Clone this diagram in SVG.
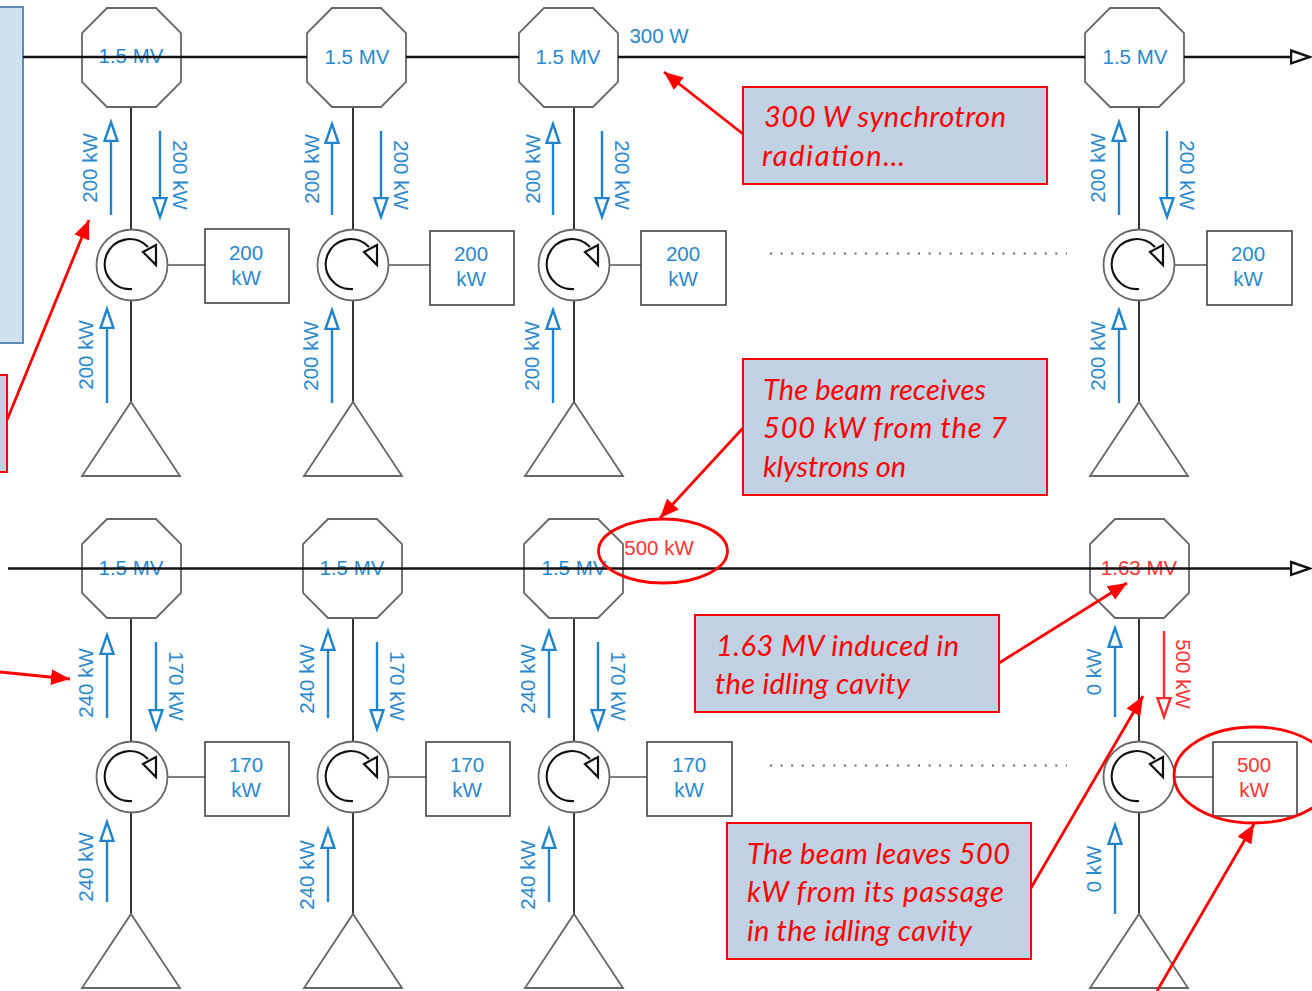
<svg xmlns="http://www.w3.org/2000/svg" width="1312" height="991" viewBox="0 0 1312 991">
<style>
.sh{fill:#fff;stroke:#666;stroke-width:1.8}
.bx{fill:#fff;stroke:#444;stroke-width:1.6}
.wire{stroke:#333;stroke-width:2;fill:none}
.thin{stroke:#555;stroke-width:1.6;fill:none}
.beam{stroke:#111;stroke-width:2.4;fill:none}
.b{fill:#2a88ce;font:20.5px "Liberation Sans",Arial,sans-serif;text-anchor:middle}
.r{fill:#ff3333;font:20.5px "Liberation Sans",Arial,sans-serif;text-anchor:middle}
.fb{stroke:#1f84cc;stroke-width:2.4;fill:none;marker-end:url(#hb)}
.fr{stroke:#ff2a2a;stroke-width:2.4;fill:none;marker-end:url(#hr)}
.call{fill:#bfd1e3;stroke:#f00;stroke-width:2}
.ct{fill:#f00;font:italic 29px Lato,"Liberation Sans",sans-serif}
.ra{stroke:#f00;stroke-width:2.8;fill:none;marker-end:url(#ra)}
.el{fill:none;stroke:#f00;stroke-width:2.8}
.dots{stroke:#666;stroke-width:2;stroke-dasharray:2 8.57;fill:none}
</style>
<defs>
<marker id="hb" markerUnits="userSpaceOnUse" orient="auto" markerWidth="24" markerHeight="18" viewBox="-1 -8 24 16" refX="0" refY="0"><path d="M0 -6.500L19 0L0 6.500Z" fill="#fff" stroke="#1f84cc" stroke-width="2.400"/></marker>
<marker id="hr" markerUnits="userSpaceOnUse" orient="auto" markerWidth="24" markerHeight="18" viewBox="-1 -8 24 16" refX="0" refY="0"><path d="M0 -6.500L19 0L0 6.500Z" fill="#fff" stroke="#ff2a2a" stroke-width="2.400"/></marker>
<marker id="hk" markerUnits="userSpaceOnUse" orient="auto" markerWidth="24" markerHeight="18" viewBox="-1 -8 24 16" refX="0" refY="0"><path d="M0 -6.500L19 0L0 6.500Z" fill="#fff" stroke="#111" stroke-width="2.400"/></marker>
<marker id="ra" markerUnits="userSpaceOnUse" orient="auto" markerWidth="24" markerHeight="20" viewBox="0 -10 24 20" refX="19" refY="0"><path d="M0 -8L19 0L0 8Z" fill="#f00"/></marker>
<path id="oct" class="sh" d="M25 0H74L99 25V74L74 99H25L0 74V25Z"/>
<g id="circ"><circle class="sh" r="35.500"/><path d="M0 24A25 25 0 1 1 16 -18" fill="none" stroke="#111" stroke-width="2.200"/><path d="M24 -20L11 -13L24 0Z" fill="#fff" stroke="#111" stroke-width="2.200"/></g>
<path id="tri" class="sh" d="M49 0L98 74H0Z"/>
</defs>
<g id="panel-left"><rect x="-3" y="7" width="26" height="336" fill="#d0e0ed" stroke="#5b8db8" stroke-width="2"/></g>
<g id="panel-left-red"><rect x="-3" y="375" width="10" height="97" class="call"/></g>

<g id="connectors">
<path class="wire" d="M131 106V402M353 106V402M574 106V402M1139 106V402M131 618V914M353 618V914M574 618V914M1139 618V914"/>
<path class="thin" d="M167 265H205M389 265H430M610 265H641M1175 265H1207M167 777H205M389 777H426M610 777H647M1175 777H1213"/>
</g>

<g id="cav-1"><use href="#oct" x="82" y="8"/></g>
<g id="cav-2"><use href="#oct" x="307" y="8"/></g>
<g id="cav-3"><use href="#oct" x="519" y="8"/></g>
<g id="cav-4"><use href="#oct" x="1085" y="8"/></g>
<g id="cav-5"><use href="#oct" x="82" y="519"/></g>
<g id="cav-6"><use href="#oct" x="303" y="519"/></g>
<g id="cav-7"><use href="#oct" x="524" y="519"/></g>
<g id="cav-8"><use href="#oct" x="1090" y="519"/></g>

<g id="cav-labels">
<text class="b" x="131" y="63">1.5 MV</text><text class="b" x="357" y="64">1.5 MV</text><text class="b" x="568" y="64">1.5 MV</text><text class="b" x="1135" y="64">1.5 MV</text>
<text class="b" x="131" y="575">1.5 MV</text><text class="b" x="352" y="575">1.5 MV</text><text class="b" x="574" y="575">1.5 MV</text><text class="r" x="1139" y="575">1.63 MV</text>
</g>

<g id="beams">
<path class="beam" d="M23 57H307M406 57H519M618 57H1085"/>
<path class="beam" d="M1184 57H1291" marker-end="url(#hk)"/>
<path class="beam" d="M8 568.500H1291" marker-end="url(#hk)"/>
</g>

<g id="circ-1"><use href="#circ" x="132" y="265"/></g>
<g id="circ-2"><use href="#circ" x="353" y="265"/></g>
<g id="circ-3"><use href="#circ" x="574" y="265"/></g>
<g id="circ-4"><use href="#circ" x="1139" y="265"/></g>
<g id="circ-5"><use href="#circ" x="132" y="777"/></g>
<g id="circ-6"><use href="#circ" x="353" y="777"/></g>
<g id="circ-7"><use href="#circ" x="574" y="777"/></g>
<g id="circ-8"><use href="#circ" x="1139" y="777"/></g>

<g id="load-1"><rect class="bx" x="205" y="229" width="84" height="74"/><text class="b" x="246" y="260">200</text><text class="b" x="246" y="285">kW</text></g>
<g id="load-2"><rect class="bx" x="430" y="231" width="84" height="74"/><text class="b" x="471" y="261">200</text><text class="b" x="471" y="286">kW</text></g>
<g id="load-3"><rect class="bx" x="641" y="231" width="85" height="74"/><text class="b" x="683" y="261">200</text><text class="b" x="683" y="286">kW</text></g>
<g id="load-4"><rect class="bx" x="1207" y="231" width="85" height="74"/><text class="b" x="1248" y="261">200</text><text class="b" x="1248" y="286">kW</text></g>
<g id="load-5"><rect class="bx" x="205" y="742" width="84" height="74"/><text class="b" x="246" y="772">170</text><text class="b" x="246" y="797">kW</text></g>
<g id="load-6"><rect class="bx" x="426" y="742" width="84" height="74"/><text class="b" x="467" y="772">170</text><text class="b" x="467" y="797">kW</text></g>
<g id="load-7"><rect class="bx" x="647" y="742" width="85" height="74"/><text class="b" x="689" y="772">170</text><text class="b" x="689" y="797">kW</text></g>
<g id="load-8"><rect class="bx" x="1213" y="742" width="84" height="74"/><text class="r" x="1254" y="772">500</text><text class="r" x="1254" y="797">kW</text></g>

<g id="src-1"><use href="#tri" x="82" y="402"/></g>
<g id="src-2"><use href="#tri" x="304" y="402"/></g>
<g id="src-3"><use href="#tri" x="525" y="402"/></g>
<g id="src-4"><use href="#tri" x="1090" y="402"/></g>
<g id="src-5"><use href="#tri" x="82" y="914"/></g>
<g id="src-6"><use href="#tri" x="304" y="914"/></g>
<g id="src-7"><use href="#tri" x="525" y="914"/></g>
<g id="src-8"><use href="#tri" x="1090" y="914"/></g>

<g id="flows">
<path class="fb" d="M111 215V141"/><path class="fb" d="M160 131V198"/><path class="fb" d="M107 403V328"/>
<path class="fb" d="M332 215V143"/><path class="fb" d="M381 131V198"/><path class="fb" d="M332 403V329"/>
<path class="fb" d="M553 215V143"/><path class="fb" d="M602 131V198"/><path class="fb" d="M553 403V329"/>
<path class="fb" d="M1119 215V141"/><path class="fb" d="M1167 131V198"/><path class="fb" d="M1119 403V329"/>
<path class="fb" d="M107 718V654"/><path class="fb" d="M156 642V710"/><path class="fb" d="M107 902V841"/>
<path class="fb" d="M328 718V650"/><path class="fb" d="M377 642V710"/><path class="fb" d="M328 902V848"/>
<path class="fb" d="M549 718V650"/><path class="fb" d="M598 642V710"/><path class="fb" d="M549 902V848"/>
<path class="fb" d="M1115 717V647"/><path class="fr" d="M1164 631V698"/><path class="fb" d="M1115 914V844"/>
</g>

<g id="flow-labels">
<text class="b" transform="translate(97 168) rotate(-90)">200 kW</text><text class="b" transform="translate(173 175) rotate(90)">200 kW</text><text class="b" transform="translate(93 355) rotate(-90)">200 kW</text>
<text class="b" transform="translate(319 169) rotate(-90)">200 kW</text><text class="b" transform="translate(394 175) rotate(90)">200 kW</text><text class="b" transform="translate(318 356) rotate(-90)">200 kW</text>
<text class="b" transform="translate(540 169) rotate(-90)">200 kW</text><text class="b" transform="translate(615 175) rotate(90)">200 kW</text><text class="b" transform="translate(539 356) rotate(-90)">200 kW</text>
<text class="b" transform="translate(1105 168) rotate(-90)">200 kW</text><text class="b" transform="translate(1180 175) rotate(90)">200 kW</text><text class="b" transform="translate(1105 356) rotate(-90)">200 kW</text>
<text class="b" transform="translate(93 683) rotate(-90)">240 kW</text><text class="b" transform="translate(169 686) rotate(90)">170 kW</text><text class="b" transform="translate(93 867) rotate(-90)">240 kW</text>
<text class="b" transform="translate(314 679) rotate(-90)">240 kW</text><text class="b" transform="translate(390 686) rotate(90)">170 kW</text><text class="b" transform="translate(314 875) rotate(-90)">240 kW</text>
<text class="b" transform="translate(535 679) rotate(-90)">240 kW</text><text class="b" transform="translate(611 686) rotate(90)">170 kW</text><text class="b" transform="translate(535 875) rotate(-90)">240 kW</text>
<text class="b" transform="translate(1101 672) rotate(-90)">0 kW</text><text class="r" transform="translate(1176 674) rotate(90)">500 kW</text><text class="b" transform="translate(1101 869) rotate(-90)">0 kW</text>
<text class="b" x="659" y="43">300 W</text><text class="r" x="659" y="555">500 kW</text>
</g>

<g id="ellipsis"><path class="dots" d="M770 253.500H1067M770 765.500H1067"/></g>

<g id="callouts">
<ellipse class="el" cx="663" cy="551" rx="64.500" ry="32"/>
<ellipse class="el" cx="1254" cy="775" rx="80" ry="48"/>
<path class="ra" d="M7 420L89 220"/>
<path class="ra" d="M0 672L70 679"/>
<path class="ra" d="M743 134L664 72"/>
<path class="ra" d="M743 428L660 518"/>
<path class="ra" d="M999 663L1127 583"/>
<path class="ra" d="M1031 888L1143 696"/>
<path class="ra" d="M1157 991L1254 824"/>
</g>
<g id="callout-1"><rect class="call" x="743" y="87" width="304" height="97"/><text class="ct" x="764" y="127" textLength="242" lengthAdjust="spacing">300 W synchrotron</text><text class="ct" x="762" y="166" textLength="143" lengthAdjust="spacing">radiation…</text></g>
<g id="callout-2"><rect class="call" x="743" y="359" width="304" height="136"/><text class="ct" x="763" y="400" textLength="223" lengthAdjust="spacing">The beam receives</text><text class="ct" x="763" y="438" textLength="244" lengthAdjust="spacing">500 kW from the 7</text><text class="ct" x="763" y="477" textLength="143" lengthAdjust="spacing">klystrons on</text></g>
<g id="callout-3"><rect class="call" x="695" y="615" width="304" height="97"/><text class="ct" x="716" y="656" textLength="243" lengthAdjust="spacing">1.63 MV induced in</text><text class="ct" x="715" y="694" textLength="195" lengthAdjust="spacing">the idling cavity</text></g>
<g id="callout-4"><rect class="call" x="727" y="823" width="304" height="136"/><text class="ct" x="747" y="864" textLength="263" lengthAdjust="spacing">The beam leaves 500</text><text class="ct" x="747" y="902" textLength="257" lengthAdjust="spacing">kW from its passage</text><text class="ct" x="747" y="941" textLength="225" lengthAdjust="spacing">in the idling cavity</text></g>
</svg>
